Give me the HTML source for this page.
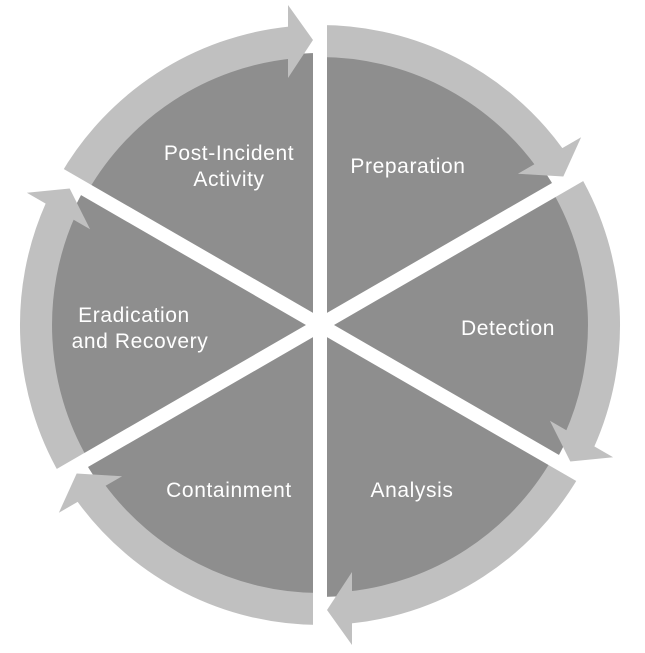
<!DOCTYPE html>
<html><head><meta charset="utf-8"><style>
html,body{margin:0;padding:0;background:#fff;width:645px;height:653px;overflow:hidden;}
svg{display:block;overflow:hidden;}
text{font-family:"Liberation Sans",sans-serif;font-size:21px;letter-spacing:0.6px;fill:#fff;text-anchor:middle;}
</style></head><body>
<svg width="645" height="653" viewBox="0 0 645 653">
<defs>
<g id="sec">
<path d="M0 0 L-235.6 -136 A272 272 0 0 1 0 -272 Z" fill="#8e8e8e"/>
<path d="M-259.8 -150 A300 300 0 0 1 -31.4 -298.4 L-28 -266.5 A268 268 0 0 0 -232.1 -134 Z" fill="#c0c0c0"/>
<polygon points="-32,-320 -7,-285 -32,-247" fill="#c0c0c0"/>
</g>
</defs>
<g transform="translate(320,325)">
<use href="#sec"/>
<use href="#sec" transform="rotate(60)"/>
<use href="#sec" transform="rotate(120)"/>
<use href="#sec" transform="rotate(180)"/>
<use href="#sec" transform="rotate(240)"/>
<use href="#sec" transform="rotate(300)"/>
<g stroke="#fff" stroke-width="14">
<line x1="0" y1="-330" x2="0" y2="328"/>
<line x1="0" y1="-330" x2="0" y2="330" transform="rotate(60)"/>
<line x1="0" y1="-330" x2="0" y2="330" transform="rotate(120)"/>
</g>
</g>
<text x="229" y="160">Post-Incident</text>
<text x="229" y="186">Activity</text>
<text x="408" y="173">Preparation</text>
<text x="508" y="335">Detection</text>
<text x="412" y="497">Analysis</text>
<text x="229" y="497">Containment</text>
<text x="134" y="322">Eradication</text>
<text x="140" y="348">and Recovery</text>
</svg>
</body></html>
